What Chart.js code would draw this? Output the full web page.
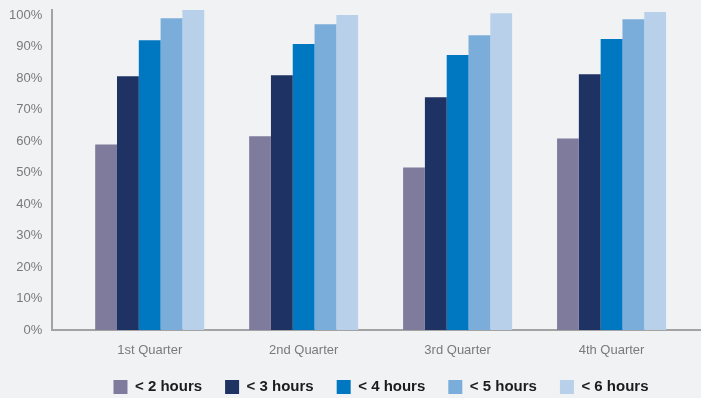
<!DOCTYPE html>
<html>
<head>
<meta charset="utf-8">
<script src="https://cdn.jsdelivr.net/npm/chart.js@4/dist/chart.umd.min.js"></script>
<style>
  html, body { margin: 0; padding: 0; background: #f1f2f4; }
  canvas { display: block; }
</style>
</head>
<body>
<canvas id="c" width="701" height="398"></canvas>
<script>
const categories = ["1st Quarter", "2nd Quarter", "3rd Quarter", "4th Quarter"];
const seriesNames = ["< 2 hours", "< 3 hours", "< 4 hours", "< 5 hours", "< 6 hours"];
const under2 = [58.9, 61.5, 51.6, 60.8];
const under3 = [80.6, 80.9, 73.9, 81.2];
const under4 = [92.0, 90.8, 87.3, 92.4];
const under5 = [99.0, 97.1, 93.6, 98.7];
const under6 = [101.6, 100.0, 100.6, 101.0];
const yTicks = [0, 10, 20, 30, 40, 50, 60, 70, 80, 90, 100];
const colors = ["#7e7b9d", "#1e3264", "#0078c1", "#7badda", "#b9d0ea"];

const seriesValues = [under2, under3, under4, under5, under6];
const datasets = seriesValues.map((vals, i) => ({
  label: seriesNames[i],
  data: vals.map((v, j) => ({ x: j, y: v })),
  backgroundColor: colors[i],
  borderWidth: 0,
  categoryPercentage: 0.708,
  barPercentage: 1.0
}));

// shift the (centered) legend to sit under the plot like the reference
const legendPlacement = {
  id: "legendPlacement",
  afterLayout(chart) {
    const lg = chart.legend;
    if (!lg) return;
    const dx = 31;
    lg.left += dx; lg.right += dx;
    const h = lg.height;
    lg.top = 356.5; lg.bottom = lg.top + h;
  }
};

new Chart(document.getElementById("c"), {
  type: "bar",
  data: { datasets },
  plugins: [legendPlacement],
  options: {
    responsive: false,
    animation: false,
    layout: { padding: { left: -1, right: 0, top: 10, bottom: -10 } },
    plugins: {
      tooltip: { enabled: false },
      legend: {
        position: "bottom",
        labels: {
          boxWidth: 14,
          boxHeight: 14,
          padding: 23,
          color: "#1c1c1c",
          font: { family: "Liberation Sans, Arial, sans-serif", size: 15, weight: "bold" }
        }
      }
    },
    scales: {
      x: {
        type: "linear",
        offset: false,
        min: -0.633,
        max: 3.581,
        grid: { display: false, drawTicks: false, offset: false },
        border: { display: true, color: "#a3a3a3", width: 2 },
        afterBuildTicks: (axis) => { axis.ticks = categories.map((c, i) => ({ value: i })); },
        afterFit: (axis) => { axis.height = 30; },
        ticks: {
          padding: 13,
          maxRotation: 0,
          color: "#7a7a7a",
          font: { family: "Liberation Sans, Arial, sans-serif", size: 13 },
          callback: (v) => categories[v]
        }
      },
      y: {
        min: 0,
        max: 101.6,
        grid: { display: false, drawTicks: false },
        border: { display: true, color: "#a3a3a3", width: 2 },
        afterBuildTicks: (axis) => { axis.ticks = yTicks.map(v => ({ value: v })); },
        afterFit: (axis) => { axis.paddingTop = 0; },
        ticks: {
          padding: 10,
          color: "#7a7a7a",
          font: { family: "Liberation Sans, Arial, sans-serif", size: 13 },
          callback: (v) => v + "%"
        }
      }
    }
  }
});
</script>
</body>
</html>
